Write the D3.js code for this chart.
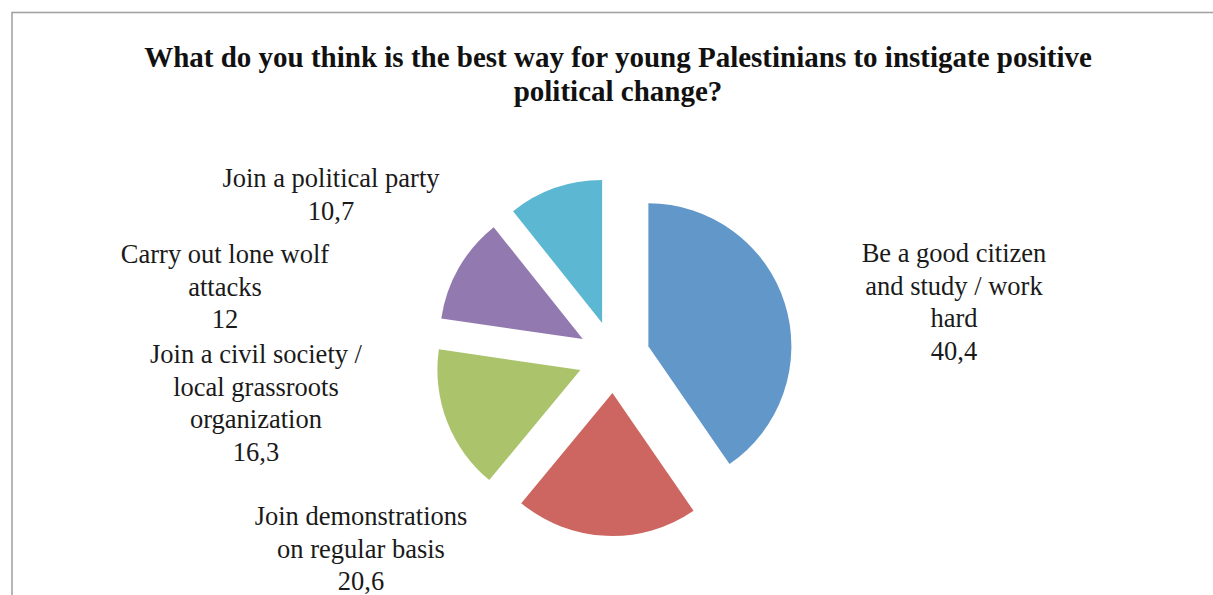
<!DOCTYPE html>
<html>
<head>
<meta charset="utf-8">
<script src="https://cdn.jsdelivr.net/npm/d3@7"></script>
<style>
  html, body { margin: 0; padding: 0; background: #fff; }
  svg { display: block; }
</style>
</head>
<body>
<svg id="chart" width="1213" height="595"></svg>
<script>
// ---- data ----
const categories = [
  ["Be a good citizen", "and study / work", "hard"],
  ["Join demonstrations", "on regular basis"],
  ["Join a civil society /", "local grassroots", "organization"],
  ["Carry out lone wolf", "attacks"],
  ["Join a political party"]
];
const values = [40.4, 20.6, 16.3, 12, 10.7];
const colors = ["#6197c9", "#cd6660", "#abc46c", "#927ab1", "#5cb8d2"];
const titleLines = [
  "What do you think is the best way for young Palestinians to instigate positive",
  "political change?"
];
// label anchor (centre x, first baseline y) for each data label
const labelAnchors = [[954, 262], [361, 525], [256, 363], [225, 263], [331, 187]];

// ---- layout ----
const W = 1213, H = 595;
const cx = 614, cy = 357, R = 143, explode = 36;
const lineH = 32.5;
const fontFamily = "Liberation Serif, Times New Roman, serif";

const svg = d3.select("#chart");

// chart area border
svg.append("rect")
  .attr("x", 12).attr("y", 12.5)
  .attr("width", W + 20).attr("height", H + 20)
  .attr("fill", "none")
  .attr("stroke", "#a3a3a3")
  .attr("stroke-width", 1.6);

// title
svg.append("text")
  .attr("text-anchor", "middle")
  .attr("font-family", fontFamily)
  .attr("font-weight", "bold")
  .attr("font-size", 29)
  .attr("fill", "#111")
  .selectAll("tspan")
  .data(titleLines)
  .join("tspan")
  .attr("x", 618)
  .attr("y", (d, i) => 67 + i * 33.5)
  .text(d => d);

// pie
const pie = d3.pie().sort(null).value(d => d).startAngle(0).endAngle(2 * Math.PI);
const arcs = pie(values);
const arc = d3.arc().innerRadius(0).outerRadius(R);

const g = svg.append("g").attr("transform", `translate(${cx},${cy})`);
g.selectAll("path")
  .data(arcs)
  .join("path")
  .attr("d", arc)
  .attr("fill", (d, i) => colors[i])
  .attr("transform", d => {
    const a = (d.startAngle + d.endAngle) / 2;
    return `translate(${explode * Math.sin(a)},${-explode * Math.cos(a)})`;
  });

// labels
const locale = d3.formatLocale({ decimal: ",", thousands: ".", grouping: [3], currency: ["", ""] });
const fmt = v => (Number.isInteger(v) ? String(v) : locale.format(".1f")(v));

const labels = svg.append("g")
  .attr("font-family", fontFamily)
  .attr("font-size", 26.5)
  .attr("fill", "#1a1a1a")
  .attr("text-anchor", "middle");

categories.forEach((lines, i) => {
  const [x, y] = labelAnchors[i];
  const all = lines.concat([fmt(values[i])]);
  const t = labels.append("text");
  t.selectAll("tspan")
    .data(all)
    .join("tspan")
    .attr("x", x)
    .attr("y", (d, j) => y + j * lineH)
    .text(d => d);
});
</script>
</body>
</html>
